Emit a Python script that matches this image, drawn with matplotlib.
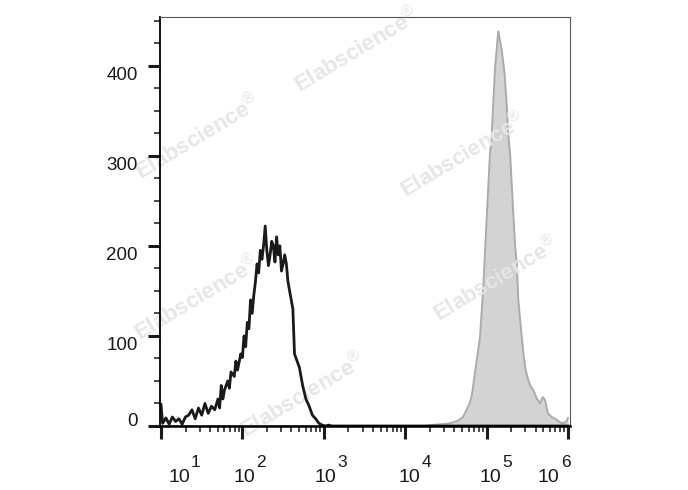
import numpy as np
import matplotlib
matplotlib.use('Agg')
import matplotlib.pyplot as plt
from matplotlib.ticker import FixedLocator, MultipleLocator, NullFormatter
from matplotlib.transforms import ScaledTranslation

plt.rcParams['font.family'] = ['Liberation Sans', 'DejaVu Sans']
plt.rcParams['mathtext.fontset'] = 'custom'
plt.rcParams['mathtext.rm'] = 'Liberation Sans'

# isotype / unstained control (black line), x in log10 units
iso_log = [1.00, 1.02, 1.06, 1.10, 1.14, 1.18, 1.22, 1.26, 1.30, 1.34, 1.38, 1.42,
           1.46, 1.50, 1.54, 1.58, 1.62, 1.66, 1.70, 1.72, 1.74, 1.76, 1.78, 1.82,
           1.84, 1.86, 1.90, 1.92, 1.94, 1.98, 2.00, 2.02, 2.04, 2.06, 2.08, 2.10,
           2.12, 2.14, 2.16, 2.18, 2.20, 2.22, 2.24, 2.26, 2.28, 2.30, 2.32, 2.34,
           2.36, 2.38, 2.40, 2.42, 2.44, 2.46, 2.48, 2.50, 2.52, 2.54, 2.56, 2.58,
           2.60, 2.62, 2.64, 2.66, 2.70, 2.74, 2.78, 2.82, 2.86, 2.90, 2.94, 2.98,
           3.02, 3.06, 3.10, 6.00]
iso_cnt = [24, 3, 9, 2, 10, 5, 8, 2, 10, 12, 18, 8,
           20, 12, 25, 14, 22, 18, 30, 20, 45, 30, 40, 50,
           42, 60, 55, 72, 62, 80, 76, 100, 88, 115, 108, 140,
           125, 145, 160, 180, 170, 195, 185, 200, 222, 195, 178, 190,
           205, 200, 182, 210, 190, 200, 172, 180, 190, 180, 160, 150,
           140, 130, 80, 75, 65, 45, 30, 22, 12, 8, 3, 1,
           0, 1, 0, 0]

# stained sample (grey filled), x in log10 units
pos_log = [1.00, 4.25, 4.30, 4.45, 4.55, 4.65, 4.71, 4.755, 4.79, 4.817, 4.857,
           4.89, 4.919, 4.96, 5.00, 5.042, 5.062, 5.066, 5.103, 5.135, 5.144,
           5.155, 5.185, 5.22, 5.25, 5.263, 5.29, 5.31, 5.35, 5.37, 5.39, 5.42,
           5.451, 5.48, 5.512, 5.54, 5.574, 5.62, 5.656, 5.69, 5.717, 5.754,
           5.80, 5.861, 5.90, 5.939, 5.98, 6.00]
pos_cnt = [0, 0, 1, 2, 3, 6, 10, 18, 25, 33, 59,
           80, 99, 155, 229, 303, 318, 330, 396, 430, 438,
           432, 418, 392, 352, 327, 300, 266, 200, 181, 140, 110,
           81, 62, 51, 44, 40, 30, 25, 32, 29, 14,
           10, 7, 4, 3, 5, 9]

decades = [1, 2, 3, 4, 5, 6]
y_major = [0, 100, 200, 300, 400]

fig = plt.figure(figsize=(6.88, 4.90), dpi=100)
ax = fig.add_axes([160/688, 64/490, 410/688, 409/490])

px = 10 ** np.array(pos_log)
ax.fill_between(px, 0, pos_cnt, color='#d3d3d3', linewidth=0, zorder=1)
ax.plot(px, pos_cnt, color='#ababab', lw=1.4, zorder=1.1)
ax.plot(10 ** np.array(iso_log), iso_cnt, color='#1a1a1a', lw=2.0, zorder=2)

ax.set_xscale('log')
ax.set_xlim(10 ** 0.9877, 10 ** 6.0246)
ax.set_ylim(0, 454)

# watermarks
marks = [(357, 50), (198, 137), (463, 155), (496, 279), (197, 298), (303, 395)]
for mx, my in marks:
    ax.text(mx/688, 1 - my/490, 'Elabscience$^{®}$', transform=fig.transFigure,
            rotation=31, ha='center', va='center', rotation_mode='anchor',
            fontsize=16, fontweight='bold', color='#e6e6e6', zorder=1.5,
            clip_on=False)

# spines
for s in ['top', 'right']:
    ax.spines[s].set_color('#555555')
    ax.spines[s].set_linewidth(0.8)
ax.spines['left'].set_linewidth(1.3)
ax.spines['bottom'].set_linewidth(1.8)

# ticks
ax.xaxis.set_major_locator(FixedLocator([10.0 ** d for d in decades]))
ax.xaxis.set_minor_locator(FixedLocator([k * 10.0 ** d for d in decades[:-1] for k in range(2, 10)]))
ax.xaxis.set_major_formatter(NullFormatter())
ax.xaxis.set_minor_formatter(NullFormatter())
ax.yaxis.set_major_locator(FixedLocator(y_major))
ax.yaxis.set_minor_locator(MultipleLocator(25))
ax.tick_params(which='major', direction='out', length=9, width=2.2, colors='#1a1a1a')
ax.tick_params(which='minor', direction='out', length=4.5, width=1.1, colors='#1a1a1a')
ax.tick_params(axis='y', which='major', labelsize=13.5, pad=7)

ax.set_yticklabels([str(v) for v in y_major])
for lab, v in zip(ax.get_yticklabels(), y_major):
    dy = 7 if v == 0 else -8
    lab.set_transform(lab.get_transform() + ScaledTranslation(0, dy/100, fig.dpi_scale_trans))

# x labels: "10" with near full-size superscript, placed as in the original
x_shift = [7, -9, -9, -7, -7, -30]
for d, sx in zip(decades, x_shift):
    ax.annotate('10', xy=(10.0 ** d, 0), xycoords=('data', 'axes fraction'),
                xytext=(sx, -56), textcoords='offset pixels', ha='left',
                va='baseline', fontsize=14, color='#1a1a1a', annotation_clip=False)
    ax.annotate(str(d), xy=(10.0 ** d, 0), xycoords=('data', 'axes fraction'),
                xytext=(sx + 23, -41), textcoords='offset pixels', ha='left',
                va='baseline', fontsize=12.5, color='#1a1a1a', annotation_clip=False)

fig.savefig('out.png', dpi=100)
